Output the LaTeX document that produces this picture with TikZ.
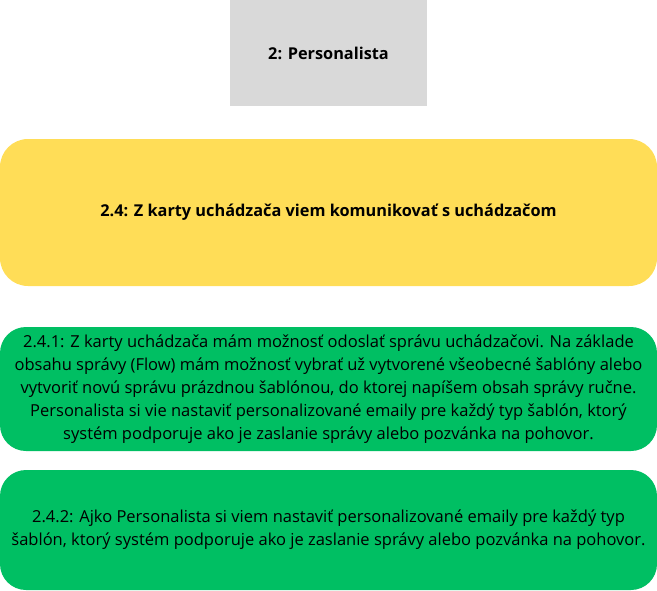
\documentclass[tikz,border=0pt]{standalone}
\usepackage{fontspec}
\setmainfont{Open Sans}
\definecolor{boxgray}{RGB}{217,217,217}
\definecolor{boxyellow}{RGB}{255,221,87}
\definecolor{boxgreen}{RGB}{0,191,99}
\tikzset{
  base/.style={inner sep=0pt, outer sep=0pt, align=center, text=black, font=\fontsize{16.5}{23}\selectfont},
  graybox/.style={base, fill=boxgray, minimum width=197pt, minimum height=106pt, font=\fontsize{16.3}{20}\selectfont\bfseries},
  yellowbox/.style={base, fill=boxyellow, rounded corners=28pt, minimum width=657pt, minimum height=147pt, font=\fontsize{16.3}{20}\selectfont\bfseries},
  greenbox/.style={base, fill=boxgreen, rounded corners=26pt, minimum width=657pt},
}
\begin{document}
\begin{tikzpicture}[x=1pt,y=-1pt]
\useasboundingbox (0,0) rectangle (657,590);
\node[graybox] (role) at (328.5,53) {2: Personalista};
\node[yellowbox] (epic) at (328.5,212.5) {2.4: Z karty uchádzača viem komunikovať s uchádzačom};
\node[greenbox, minimum height=124pt] (s1) at (328.5,389) {2.4.1: Z karty uchádzača mám možnosť odoslať správu uchádzačovi. Na základe\\
obsahu správy (Flow) mám možnosť vybrať už vytvorené všeobecné šablóny alebo\\
vytvoriť novú správu prázdnou šablónou, do ktorej napíšem obsah správy ručne.\\
Personalista si vie nastaviť personalizované emaily pre každý typ šablón, ktorý\\
systém podporuje ako je zaslanie správy alebo pozvánka na pohovor.};
\node[greenbox, minimum height=120pt] (s2) at (328.5,530) {2.4.2: Ajko Personalista si viem nastaviť personalizované emaily pre každý typ\\
šablón, ktorý systém podporuje ako je zaslanie správy alebo pozvánka na pohovor.};
\end{tikzpicture}
\end{document}
